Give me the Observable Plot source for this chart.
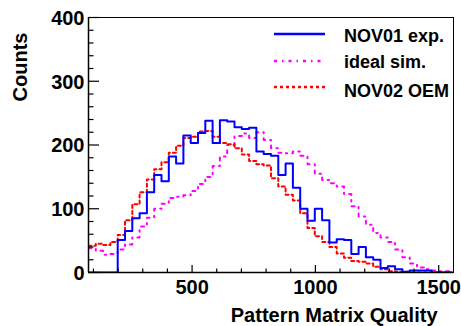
<!DOCTYPE html>
<html><head><meta charset="utf-8">
<script src="https://cdn.jsdelivr.net/npm/d3@7"></script>
<script src="https://cdn.jsdelivr.net/npm/@observablehq/plot@0.6"></script>
<style>
html,body{margin:0;padding:0;background:#fff;}
#wrap{position:relative;width:461px;height:326px;}
#wrap svg{font-family:"Liberation Sans",Arial,Helvetica,sans-serif;}
#legend{position:absolute;left:0;top:0;pointer-events:none;}
</style></head><body><div id="wrap"></div>
<script>
// Histogram binning: 50 bins from 80 to 1560
const binLow = 80;
const binWidth = 29.6;
// Counts per bin
const nov01 = [0,0,0,0,51,65,85,93,126,153, 143,182,171,215,203,219,238,203,239,237, 228,225,227,190,186,183,153,171,133,100, 81,100,82,47,52,51,29,40,24,20, 7,10,5,1,3,3,3,0,0,0];
const ideal = [38,34,28,29,36,44,55,72,86,100, 108,117,119,121,128,139,150,167,182,200, 214,218,211,220,208,195,188,187,190,183, 170,155,145,140,135,123,104,88,75,62, 55,48,36,24,14,8,5,3,2,2];
const nov02 = [42,45,43,48,59,82,107,126,146,162, 173,188,199,211,213,221,222,213,203,201, 195,185,175,170,168,148,135,122,113,93, 70,57,48,40,30,23,18,17,14,9, 5,2,1,1,0,0,0,0,0,0];

const seriesNames = ["NOV01 exp.", "ideal sim.", "NOV02 OEM"];
const seriesColors = ["#0000ff", "#ff00ff", "#ff0000"];
const seriesDash = [null, "3,5,1.5,5", "3,3"];

const xMajorTicks = [500, 1000, 1500];
const xMinorTicks = [100,200,300,400,600,700,800,900,1100,1200,1300,1400];
const yMajorTicks = [0, 100, 200, 300, 400];
const yMinorTicks = [20,40,60,80,120,140,160,180,220,240,260,280,320,340,360,380];
const xTitle = "Pattern Matrix Quality";
const yTitle = "Counts";

const W = 461, H = 326, mL = 88, mR = 8, mT = 17, mB = 54;
const frameW = W - mL - mR, frameH = H - mT - mB;

function steps(vals) {
  const pts = vals.map((v, i) => ({x: binLow + i * binWidth, y: v}));
  pts.push({x: binLow + vals.length * binWidth, y: vals[vals.length - 1]});
  return pts;
}
const allSeries = [nov01, ideal, nov02];
const font = {fontSize: 20, fontWeight: "bold"};
const fmt = d => String(d);

const histMarks = allSeries.map((vals, k) => Plot.line(steps(vals), {
  x: "x", y: "y", curve: "step-after",
  stroke: seriesColors[k], strokeWidth: 2, strokeDasharray: seriesDash[k], clip: true
}));

const plot = Plot.plot({
  width: W, height: H,
  marginLeft: mL, marginRight: mR, marginTop: mT, marginBottom: mB,
  x: {domain: [binLow, binLow + 50 * binWidth]},
  y: {domain: [0, 400]},
  style: {fontFamily: '"Liberation Sans", Arial, Helvetica, sans-serif', background: "white", overflow: "visible"},
  marks: [
    ...[histMarks[1], histMarks[2], histMarks[0]],
    Plot.frame({stroke: "black", strokeWidth: 1}),
    Plot.ruleY([0], {stroke: "black", strokeWidth: 1.5}),
    Plot.ruleX([binLow], {stroke: "black", strokeWidth: 1.5}),
    Plot.tickY(yMajorTicks, {y: d => d, insetRight: frameW - 11, stroke: "black", strokeWidth: 1.2}),
    Plot.tickY(yMinorTicks, {y: d => d, insetRight: frameW - 5.5, stroke: "black", strokeWidth: 1.2}),
    Plot.tickX(xMajorTicks, {x: d => d, insetTop: frameH - 7, stroke: "black", strokeWidth: 1.2}),
    Plot.tickX(xMinorTicks, {x: d => d, insetTop: frameH - 3.5, stroke: "black", strokeWidth: 1.2}),
    Plot.axisY(yMajorTicks, {tickSize: 0, tickPadding: 4, dy: 1, label: null, tickFormat: fmt, ...font, fill: "black"}),
    Plot.axisX(xMajorTicks, {tickSize: 0, tickPadding: 7, label: null, tickFormat: fmt, ...font, fill: "black"}),
    Plot.text([yTitle], {frameAnchor: "top-left", rotate: -90, textAnchor: "end", lineAnchor: "bottom", dx: -61.5, dy: 15, ...font, fill: "black"}),
    Plot.text([xTitle], {frameAnchor: "bottom-right", textAnchor: "end", lineAnchor: "bottom", dx: -16, dy: 49, ...font, fill: "black"})
  ]
});
const wrap = document.getElementById("wrap");
wrap.appendChild(plot);

// Legend overlay
const leg = d3.select(wrap).append("svg").attr("id", "legend")
  .attr("width", W).attr("height", H)
  .style("font-family", '"Liberation Sans", Arial, Helvetica, sans-serif');
const rowY = [34, 61, 87];
const textY = [41.5, 67.5, 96.5];
seriesNames.forEach((name, k) => {
  leg.append("line").attr("x1", 274).attr("x2", 325).attr("y1", rowY[k]).attr("y2", rowY[k])
    .attr("stroke", seriesColors[k]).attr("stroke-width", 2.5)
    .attr("stroke-dasharray", seriesDash[k]);
  leg.append("text").attr("x", 344).attr("y", textY[k]).text(name)
    .attr("font-size", 18).attr("font-weight", "bold").attr("fill", "black");
});
</script>
</body></html>
